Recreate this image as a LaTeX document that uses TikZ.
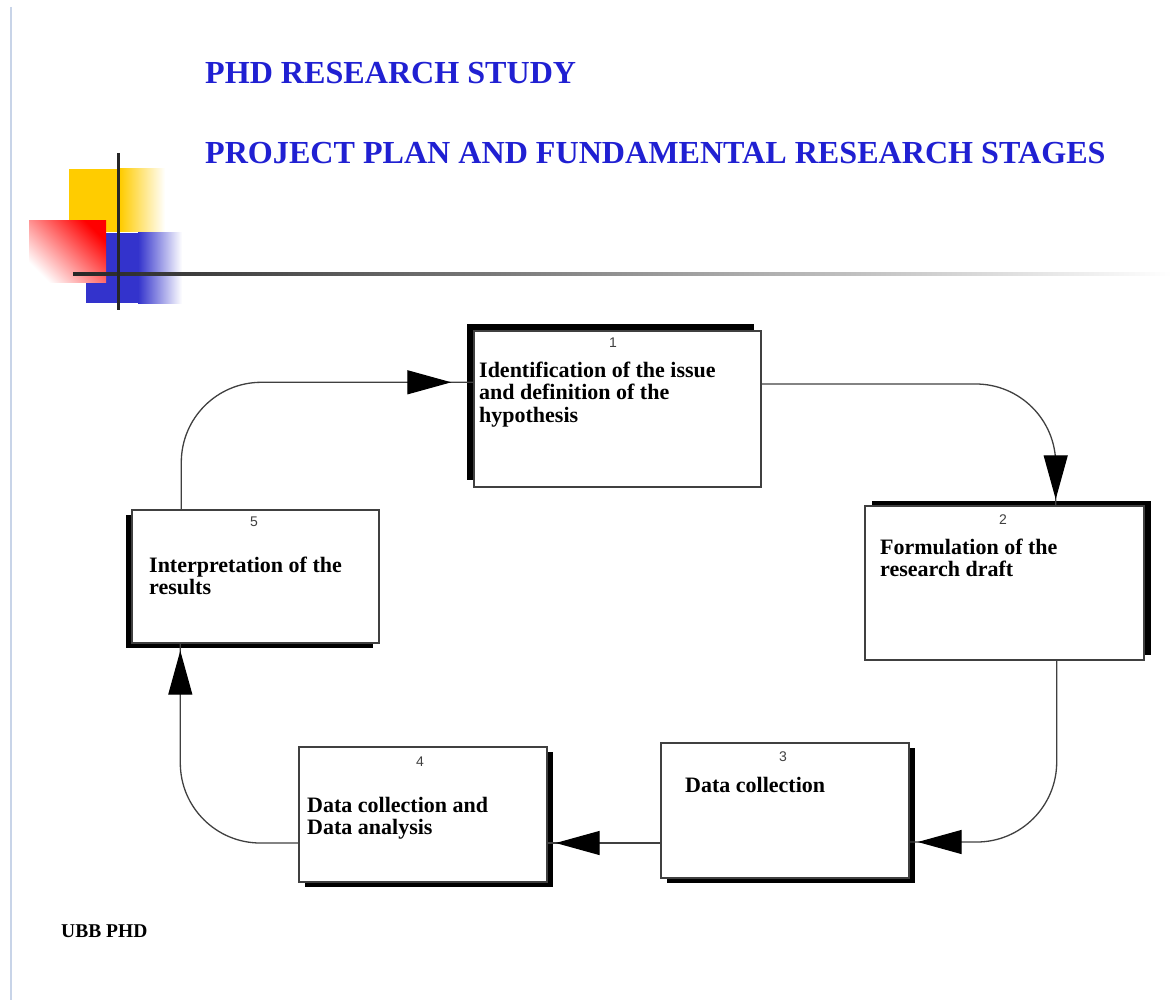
\documentclass[tikz,border=0pt]{standalone}
\usepackage{fontspec}
\setmainfont{Liberation Serif}
\newfontfamily\numfont{Liberation Sans}
\usetikzlibrary{arrows.meta,shadows,decorations.markings}

\definecolor{titleblue}{RGB}{32,32,210}
\definecolor{edgeblue}{RGB}{200,212,232}
\definecolor{orngyellow}{RGB}{255,204,0}
\definecolor{orngblue}{RGB}{51,51,204}

\tikzset{
  stage/.style={draw=black!75, line width=1.4pt, fill=white, inner sep=0pt},
  stagetext/.style={anchor=base west, align=left, inner sep=0pt,
    font=\fontsize{22}{22.5}\selectfont\bfseries},
  stagenum/.style={inner sep=0pt, text=black!75, font=\numfont\fontsize{14}{14}\selectfont},
  title/.style={anchor=base west, inner sep=0pt, text=titleblue,
    font=\fontsize{32.1}{38}\selectfont\bfseries},
  flow/.style={line width=1.3pt, draw=black!75, rounded corners=80pt,
    postaction={decorate},
    decoration={markings, mark=at position #1 with {\arrow[black]{Triangle[length=44pt,width=24pt]}}}}
}

\begin{document}
\begin{tikzpicture}[x=1pt,y=-1pt]
\useasboundingbox (0,0) rectangle (1172,1000);
% slide edge and corner ornament
\draw[line width=2pt, edgeblue] (11,7) -- (11,1000);
\fill[orngyellow] (69,169) rectangle (120,232);
\shade[left color=orngyellow, right color=white] (120,169) rectangle (165,232);
\fill[orngblue] (86,233) rectangle (138,303);
\shade[left color=orngblue, right color=white] (138,233) rectangle (182,303);
\shade[top color=red, bottom color=white, shading angle=-45] (29,221) rectangle (106,283);
\shade[left color=black!85, middle color=black!55, right color=white] (73,272.5) rectangle (1172,275.5);
\draw[line width=3pt, black!85] (118,153) -- (118,310);

% titles
\node[title] (ttl1) at (205,84) {PHD RESEARCH STUDY};
\node[title] (ttl2) at (205,164) {PROJECT PLAN AND FUNDAMENTAL RESEARCH STAGES};

% stages
\node[stage, minimum width=287pt, minimum height=156pt,
  general shadow={fill=black, shadow xshift=-7pt, shadow yshift=7pt}] (b1) at (617.5,409) {};
\node[stage, minimum width=279pt, minimum height=154pt,
  general shadow={fill=black, shadow xshift=7pt, shadow yshift=5pt}] (b2) at (1004.5,583) {};
\node[stage, minimum width=248pt, minimum height=135pt,
  general shadow={fill=black, shadow xshift=6pt, shadow yshift=-5pt}] (b3) at (785,810.5) {};
\node[stage, minimum width=248pt, minimum height=135pt,
  general shadow={fill=black, shadow xshift=6pt, shadow yshift=-5pt}] (b4) at (423,814.5) {};
\node[stage, minimum width=247pt, minimum height=133pt,
  general shadow={fill=black, shadow xshift=-6pt, shadow yshift=-5pt}] (b5) at (255.5,576.5) {};

\node[stagenum] (n1) at (613,343) {1};
\node[stagenum] (n2) at (1003,520) {2};
\node[stagenum] (n3) at (783,757) {3};
\node[stagenum] (n4) at (420,762) {4};
\node[stagenum] (n5) at (254,522) {5};

% base of a stage text is its last line
\node[stagetext] (s1) at (479,422) {Identification of the issue\\and definition of the\\hypothesis};
\node[stagetext] (s2) at (880,576.5) {Formulation of the\\research draft};
\node[stagetext] (s3) at (685,792) {Data collection};
\node[stagetext] (s4) at (307,834.5) {Data collection and\\Data analysis};
\node[stagetext] (s5) at (149,594.5) {Interpretation of the\\results};

% cycle
\draw[flow=-22pt] ([xshift=50pt]b5.north west) |- ([yshift=-52pt]b1.north west);
\draw[flow=-6pt] ([yshift=25pt]b1.east) -| ([xshift=-89pt]b2.north east);
\draw[flow=-8pt] ([xshift=-88pt]b2.south east) |- ([yshift=-31.5pt]b3.east);
\draw[flow=-8pt] ([yshift=-32.5pt]b3.west) -- ([yshift=-28.5pt]b4.east);
\draw[flow=-7pt] ([yshift=-28.5pt]b4.west) -| ([xshift=49pt]b5.south west);

\node[anchor=base west, inner sep=0pt, font=\fontsize{19.5}{20}\selectfont\bfseries] (ftr) at (61,937) {UBB PHD};
\end{tikzpicture}
\end{document}
